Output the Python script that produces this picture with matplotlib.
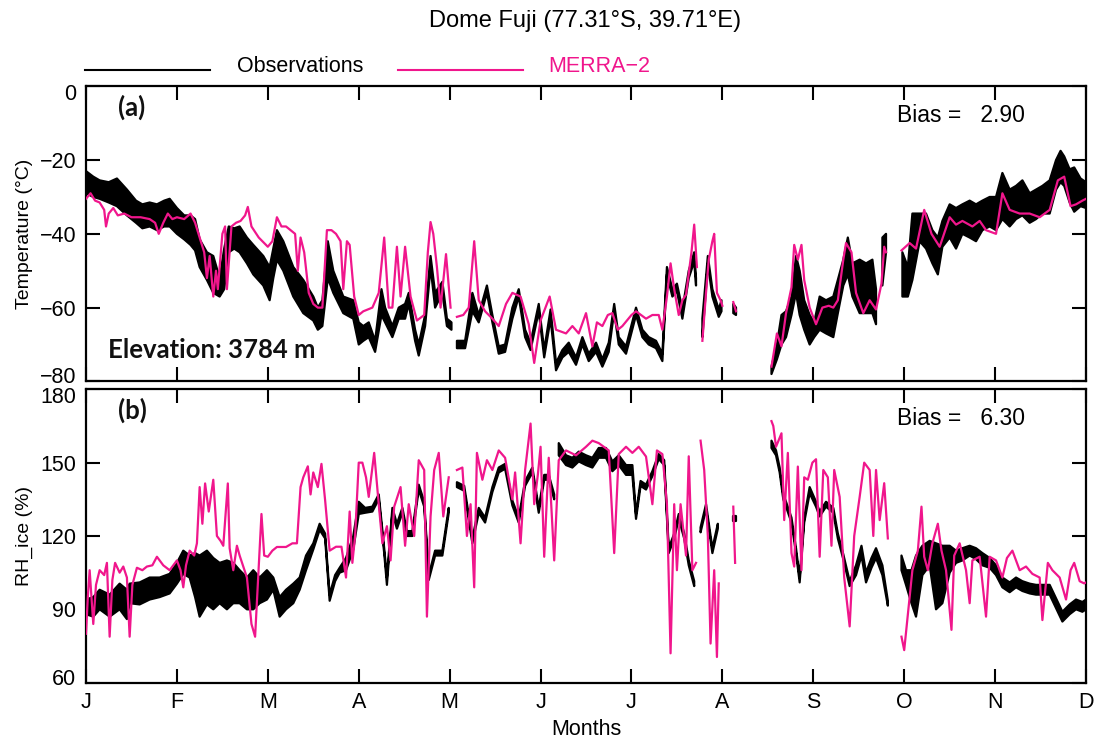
import numpy as np
import matplotlib
matplotlib.use("Agg")
import matplotlib.pyplot as plt
from matplotlib.lines import Line2D
from matplotlib.transforms import ScaledTranslation

nan = np.nan

months = ["J", "F", "M", "A", "M", "J", "J", "A", "S", "O", "N", "D"]

# observations: (month, low, high) of the hourly band
obs_temp = [
    (0.00, -29, -23), (0.08, -30, -24.5), (0.15, -30.5, -25.5), (0.25, -31.5, -26),
    (0.34, -32.5, -25), (0.45, -35, -28), (0.55, -37, -31), (0.62, -38.5, -32),
    (0.70, -38, -31.5), (0.78, -39, -32), (0.86, -38, -31), (0.92, -38, -30.5),
    (1.00, -40, -33), (1.08, -41.5, -35), (1.15, -43, -35), (1.20, -44.5, -36),
    (1.25, -49, -41.5), (1.33, -52.5, -45), (1.40, -56, -46), (1.47, -57, -52),
    (1.52, -55, -44), (1.57, -45, -38), (1.63, -44, -38.5), (1.69, -45, -38),
    (1.77, -48, -41), (1.84, -51, -43), (1.95, -54, -46), (2.02, -58, -49),
    (2.06, -52, -44), (2.10, -47, -39), (2.17, -50, -42), (2.28, -57, -49),
    (2.39, -61.5, -52.5), (2.50, -63.5, -57), (2.55, -66, -60), (2.60, -65, -58),
    (2.66, -52, -42), (2.72, -56, -50), (2.83, -61.5, -57), (2.94, -63, -58),
    (3.00, -70, -64), (3.05, -69, -65), (3.11, -68, -64), (3.18, -72, -69),
    (3.25, -62, -55), (3.29, -64, -60), (3.37, -68, -65), (3.44, -63, -60),
    (3.51, -63, -59), (3.55, -59, -56), (3.62, -69, -66), (3.66, -73, -70),
    (3.73, -65, -62), (3.79, -49, -46), (3.84, -60, -56), (3.92, -56, -53),
    (3.97, -65, -63), (4.02, -66, -64), (4.05, nan, nan),
    (4.08, -71, -69), (4.17, -71, -69), (4.25, -61, -56), (4.32, -64, -62),
    (4.41, -56, -54), (4.47, -64, -62), (4.54, -72.5, -70.5), (4.61, -72, -70),
    (4.69, -63, -60), (4.76, -57, -55), (4.83, -68, -66), (4.89, -71.5, -69.5),
    (4.98, -61, -59), (5.04, -73.5, -71.5), (5.11, -63, -60.5), (5.17, -77, -75),
    (5.24, -73.5, -71.5), (5.31, -72, -69.5), (5.39, -75.5, -73.5), (5.46, -70, -68),
    (5.53, -74.5, -72.5), (5.61, -72, -69.5), (5.68, -76, -74), (5.75, -72, -69.5),
    (5.81, -61, -59), (5.86, -70, -68), (5.94, -72.5, -70.5), (6.05, -62, -60),
    (6.12, -68, -66), (6.19, -70, -68), (6.27, -71, -69), (6.34, -74.5, -72.5),
    (6.39, -51, -49), (6.45, -57, -55), (6.50, -55.5, -53.5), (6.56, -63, -60.5),
    (6.63, -52, -50), (6.69, -47.5, -45), (6.71, -54, -52), (6.74, nan, nan),
    (6.78, -68, -63), (6.84, -48, -46), (6.89, -57, -55), (6.96, -62.5, -60.5),
    (6.99, -61, -58), (7.05, nan, nan), (7.12, -61.5, -59), (7.15, -62, -60),
    (7.30, nan, nan),
    (7.54, -78, -76), (7.60, -74, -70), (7.65, -70, -62), (7.70, -68, -61),
    (7.76, -62, -57), (7.81, -56, -46), (7.85, -62, -50), (7.90, -66, -58),
    (7.96, -70, -62), (8.01, -68, -64), (8.07, -66, -57), (8.14, -67, -58),
    (8.22, -68, -57), (8.27, -61.5, -52.5), (8.33, -54, -47), (8.38, -51, -41),
    (8.43, -57, -48), (8.51, -61.5, -47), (8.58, -61.5, -48), (8.65, -61.5, -47),
    (8.69, -64.5, -55), (8.72, nan, nan), (8.76, -54, -41), (8.80, -45, -40),
    (8.88, nan, nan),
    (8.98, -57, -45), (9.04, -57, -49), (9.09, -52.5, -34.5), (9.17, -42, -34.5),
    (9.24, -44, -34.5), (9.31, -48, -39), (9.37, -51, -41), (9.42, -43.5, -36.5),
    (9.50, -41, -32), (9.57, -44, -33), (9.64, -40, -32), (9.72, -41, -31),
    (9.79, -42, -32), (9.86, -39, -31), (9.94, -38, -30), (10.01, -39, -30),
    (10.08, -36, -23.5), (10.16, -38, -28), (10.23, -36, -27), (10.30, -35, -25.5),
    (10.38, -37, -29), (10.45, -36, -28), (10.52, -34.5, -27), (10.60, -34.5, -25.5),
    (10.67, -28, -20), (10.72, -26, -17.5), (10.76, -27, -19), (10.82, -31.5, -22.5),
    (10.87, -34, -22), (10.94, -32.5, -25), (11.00, -33, -26),
]

merra_temp = [
    (0.00, -30.5), (0.05, -29), (0.10, -31), (0.15, -31.5), (0.20, -33.5), (0.22, -38),
    (0.25, -34.5), (0.30, -33), (0.35, -35), (0.42, -34.5), (0.50, -35.5), (0.60, -35.5),
    (0.70, -36), (0.76, -37), (0.80, -40), (0.85, -37), (0.90, -34.5), (0.95, -36),
    (1.00, -35.5), (1.08, -36), (1.15, -34.5), (1.20, -37), (1.25, -41), (1.30, -45),
    (1.33, -52), (1.36, -46), (1.40, -57), (1.43, -50), (1.45, -55), (1.50, -40),
    (1.53, -38), (1.55, -55), (1.60, -38), (1.65, -37), (1.70, -36.5), (1.75, -35),
    (1.78, -32.7), (1.82, -38), (1.90, -41), (2.00, -43.5), (2.05, -42), (2.10, -35.5),
    (2.15, -38), (2.20, -38), (2.30, -40), (2.33, -50), (2.36, -41), (2.40, -45),
    (2.45, -56), (2.50, -59), (2.55, -60), (2.60, -60), (2.65, -39), (2.70, -39),
    (2.75, -40), (2.80, -42), (2.83, -55), (2.87, -42), (2.90, -43), (2.95, -57),
    (3.00, -62), (3.05, -61), (3.15, -60), (3.22, -56), (3.28, -41), (3.33, -60),
    (3.37, -60), (3.42, -43.5), (3.46, -57), (3.51, -43.5), (3.57, -57), (3.64, -63.5),
    (3.72, -62), (3.76, -45), (3.79, -36.8), (3.82, -40), (3.86, -49), (3.90, -60),
    (3.96, -45.5), (4.01, -60), (4.04, nan),
    (4.08, -62.5), (4.15, -62), (4.21, -60), (4.27, -42), (4.32, -58), (4.39, -61),
    (4.47, -63), (4.54, -65), (4.62, -59), (4.69, -56), (4.78, -57), (4.87, -64.5),
    (4.93, -75), (5.00, -63.5), (5.10, -57), (5.17, -66), (5.28, -67), (5.35, -65),
    (5.42, -67), (5.50, -61.5), (5.57, -70.5), (5.62, -64), (5.68, -65), (5.74, -62),
    (5.79, -61.5), (5.85, -66), (5.90, -65), (6.00, -62), (6.05, -61), (6.16, -63),
    (6.23, -62), (6.30, -62), (6.34, -66), (6.39, -57), (6.43, -48), (6.47, -55),
    (6.52, -62), (6.56, -58), (6.60, -56.5), (6.66, -45), (6.69, -37.5), (6.72, -49),
    (6.74, nan),
    (6.78, -69), (6.82, -56), (6.85, -47), (6.89, -42), (6.91, -40), (6.94, -56),
    (6.98, -58), (7.00, -59.5), (7.05, nan), (7.12, -58.5), (7.15, -61), (7.30, nan),
    (7.54, -76), (7.60, -67), (7.65, -70.5), (7.70, -61.5), (7.76, -54.5), (7.79, -43),
    (7.83, -47), (7.87, -43), (7.90, -52.5), (7.96, -60), (8.03, -64.5), (8.10, -60),
    (8.17, -59.5), (8.22, -60), (8.27, -58), (8.33, -47), (8.36, -42.5), (8.42, -45),
    (8.47, -56), (8.55, -61.5), (8.62, -58), (8.69, -60.5), (8.75, -53.5), (8.78, -43.5),
    (8.80, -45), (8.88, nan),
    (8.97, -44.5), (9.06, -42.5), (9.13, -44), (9.22, -33.5), (9.30, -40), (9.39, -43.5),
    (9.50, -35.5), (9.57, -37.5), (9.64, -36.5), (9.75, -38), (9.83, -36.5), (9.90, -39),
    (10.01, -40), (10.08, -29), (10.16, -33.5), (10.27, -34.5), (10.38, -34.5),
    (10.49, -35.5), (10.60, -33.5), (10.69, -25.5), (10.76, -24.5), (10.83, -32.5),
    (10.89, -32), (10.96, -31), (11.00, -30.5),
]

obs_rh = [
    (0.00, 88, 94), (0.08, 87, 95), (0.15, 90, 98), (0.26, 87, 96), (0.37, 90, 100.5),
    (0.45, 86, 98), (0.48, 92.5, 100.5), (0.59, 92, 101), (0.70, 94, 103), (0.81, 95, 103),
    (0.92, 96.5, 104.5), (1.00, 100.5, 109), (1.07, 104.5, 114), (1.14, 103, 112),
    (1.20, 95, 113), (1.25, 87, 112), (1.33, 92, 114), (1.40, 90, 111), (1.47, 92.5, 109),
    (1.55, 90, 110), (1.62, 92.5, 109), (1.69, 92.5, 106), (1.77, 90, 103), (1.84, 90, 106),
    (1.91, 92.5, 103), (1.99, 94, 106), (2.06, 98, 103), (2.13, 87, 95), (2.20, 90, 98),
    (2.28, 92.5, 100.5), (2.35, 98, 103), (2.42, 106, 112), (2.50, 114.5, 117),
    (2.57, 122.5, 125), (2.63, 119, 121), (2.68, 93.5, 96), (2.74, 101.5, 104),
    (2.79, 105, 107), (2.86, 106, 111), (2.94, 114.5, 120), (3.00, 129, 134),
    (3.07, 129.5, 131.5), (3.15, 130, 132), (3.22, 135, 137), (3.28, 113, 115),
    (3.31, 100, 103), (3.37, 129.5, 131.5), (3.42, 123, 125), (3.48, 129.5, 131.5),
    (3.53, 120, 122), (3.59, 120, 122), (3.66, 139, 141), (3.72, 132, 134),
    (3.77, 102, 104), (3.84, 112, 114), (3.92, 112, 114), (3.99, 129.5, 131.5),
    (4.03, nan, nan),
    (4.08, 140, 142), (4.16, 138.5, 140.5), (4.25, 117, 119), (4.32, 129.5, 131.5),
    (4.39, 125.5, 127.5), (4.47, 138, 140), (4.54, 146, 148), (4.61, 147.5, 149.5),
    (4.69, 132.5, 134.5), (4.76, 125.5, 127.5), (4.83, 140.5, 142.5), (4.91, 146, 148),
    (4.98, 129.5, 131.5), (5.04, 143, 145), (5.09, 143, 145), (5.15, 135, 137),
    (5.17, nan, nan),
    (5.20, 153, 158), (5.28, 149, 153), (5.35, 148, 152), (5.42, 150.5, 154.5),
    (5.50, 149, 153), (5.57, 148, 152), (5.64, 152, 156), (5.72, 152, 156),
    (5.79, 146.5, 150.5), (5.86, 149, 153), (5.94, 145, 149), (6.01, 145, 149),
    (6.05, 127, 129), (6.10, 140.5, 142.5), (6.16, 139, 141), (6.23, 144.5, 146.5),
    (6.30, 151.5, 153.5), (6.36, 149, 151), (6.41, 113, 115), (6.47, 119, 121),
    (6.52, 127, 129), (6.58, 119, 121), (6.63, 108, 110), (6.69, 99.5, 101.5),
    (6.72, nan, nan),
    (6.76, 121.5, 123.5), (6.82, 131, 133), (6.89, 113, 115), (6.95, 123, 125),
    (7.03, nan, nan), (7.12, 126, 128), (7.15, 126, 128), (7.30, nan, nan),
    (7.54, 156, 159), (7.59, 153, 155), (7.63, 146, 148), (7.67, 135, 137),
    (7.70, 132, 134), (7.76, 125.5, 127.5), (7.81, 113, 115), (7.85, 101, 103),
    (7.90, 125.5, 127.5), (7.96, 137.5, 140), (8.03, 132, 134), (8.07, 128, 130),
    (8.14, 132, 134), (8.22, 129.5, 131.5), (8.27, 119, 121), (8.33, 110.5, 112.5),
    (8.40, 99.5, 101.5), (8.47, 104, 108), (8.53, 112, 116), (8.58, 101, 105),
    (8.64, 107, 111), (8.69, 111, 115), (8.76, 104, 108), (8.82, 91.5, 93.5),
    (8.90, nan, nan),
    (8.97, 106, 112), (9.02, 100, 106), (9.08, 92.5, 106), (9.13, 87, 112),
    (9.20, 104, 116), (9.28, 108, 118), (9.35, 90, 117), (9.42, 92.5, 116),
    (9.50, 105, 116), (9.57, 109, 114), (9.64, 110, 115), (9.72, 112, 116),
    (9.79, 110.5, 115), (9.86, 108, 113), (9.94, 107, 111), (10.01, 104, 108),
    (10.08, 99, 103), (10.16, 97, 101), (10.23, 99, 103), (10.30, 97.5, 101.5),
    (10.38, 96.5, 100.5), (10.45, 96, 100), (10.52, 96, 100), (10.60, 96, 100),
    (10.67, 90.5, 94.5), (10.74, 85, 89), (10.82, 88, 92), (10.89, 90, 94),
    (10.96, 89, 93), (11.00, 90, 94),
]

merra_rh = [
    (0.00, 80), (0.02, 95), (0.04, 106), (0.08, 84), (0.11, 100), (0.15, 106),
    (0.20, 104), (0.23, 109), (0.26, 78.8), (0.29, 102), (0.32, 109), (0.37, 105),
    (0.41, 107.5), (0.45, 103), (0.48, 78.8), (0.51, 100), (0.56, 107), (0.62, 106),
    (0.67, 107.5), (0.73, 108), (0.78, 111.5), (0.85, 108), (0.92, 106), (1.00, 110),
    (1.04, 106), (1.07, 99), (1.10, 108), (1.14, 114), (1.19, 112), (1.22, 117),
    (1.25, 140), (1.28, 125), (1.31, 141.5), (1.35, 130), (1.40, 143), (1.44, 120),
    (1.48, 118), (1.51, 116), (1.56, 141.5), (1.58, 115), (1.62, 106), (1.66, 116),
    (1.69, 112), (1.77, 103), (1.82, 84), (1.86, 78.8), (1.89, 100), (1.93, 129),
    (1.96, 112), (2.00, 111.5), (2.05, 114), (2.10, 115.5), (2.20, 115.5), (2.27, 117),
    (2.32, 117), (2.36, 140), (2.39, 144), (2.44, 148.5), (2.47, 137), (2.50, 146),
    (2.55, 140), (2.59, 149.5), (2.63, 134.7), (2.66, 122), (2.68, 114), (2.75, 115.6),
    (2.81, 115.6), (2.86, 103), (2.90, 130), (2.93, 109), (2.96, 120), (3.00, 150),
    (3.04, 150), (3.08, 144), (3.11, 136), (3.17, 154), (3.22, 133), (3.26, 117),
    (3.31, 124), (3.35, 110), (3.39, 132), (3.46, 140), (3.51, 116), (3.55, 133),
    (3.61, 120), (3.66, 151), (3.72, 147), (3.75, 87), (3.79, 128), (3.83, 147),
    (3.88, 154), (3.93, 128), (3.99, 144), (4.03, nan),
    (4.08, 147), (4.14, 148), (4.19, 120), (4.23, 133), (4.27, 99), (4.30, 154),
    (4.36, 143), (4.41, 151), (4.47, 147), (4.54, 155), (4.61, 152), (4.69, 135),
    (4.72, 146), (4.78, 117), (4.83, 147), (4.89, 166), (4.93, 133), (4.97, 145),
    (5.00, 156.5), (5.04, 111.5), (5.09, 152), (5.15, 110), (5.20, 151), (5.28, 155),
    (5.39, 153), (5.50, 156.5), (5.57, 159), (5.64, 158), (5.75, 155), (5.81, 113),
    (5.86, 153.5), (5.94, 156.5), (6.01, 154), (6.08, 156.5), (6.16, 152.5), (6.23, 133),
    (6.28, 155), (6.34, 153.5), (6.39, 133), (6.43, 72), (6.47, 133), (6.50, 106),
    (6.54, 133), (6.60, 112), (6.63, 152.6), (6.67, 106), (6.71, 109), (6.73, nan),
    (6.76, 159), (6.80, 147), (6.84, 120), (6.87, 76), (6.91, 106), (6.94, 70.5),
    (6.96, 100.6), (7.03, nan), (7.12, 132), (7.14, 109), (7.30, nan),
    (7.54, 167), (7.56, 165), (7.59, 156.5), (7.65, 162), (7.68, 126.5), (7.72, 154),
    (7.76, 113), (7.79, 107.5), (7.83, 148.4), (7.87, 106), (7.90, 144), (7.94, 143),
    (7.99, 150), (8.03, 151.4), (8.07, 111.5), (8.11, 147), (8.16, 144), (8.20, 116),
    (8.23, 147), (8.29, 136), (8.34, 103), (8.40, 83), (8.45, 120), (8.51, 136),
    (8.56, 150), (8.62, 147), (8.66, 120), (8.69, 147), (8.73, 126.5), (8.78, 141.6),
    (8.82, 119), (8.90, nan),
    (8.97, 78.8), (9.00, 73.3), (9.04, 88), (9.09, 106), (9.15, 114), (9.19, 132),
    (9.22, 111.5), (9.26, 106), (9.31, 117), (9.37, 125), (9.41, 114), (9.46, 106),
    (9.52, 81.6), (9.55, 112), (9.61, 117), (9.68, 106), (9.72, 92.5), (9.75, 110),
    (9.83, 111.5), (9.90, 87), (9.94, 111.5), (10.01, 110), (10.08, 103), (10.13, 111),
    (10.19, 114), (10.27, 106), (10.34, 107.5), (10.41, 104.5), (10.49, 103),
    (10.52, 85.6), (10.58, 109), (10.63, 106), (10.71, 103), (10.78, 94), (10.83, 106),
    (10.87, 109), (10.93, 101.5), (10.98, 100.6), (11.00, 101),
]

bias_temp = 2.90
bias_rh = 6.30

MAGENTA = "#F0168C"
plt.rcParams["font.family"] = ["Liberation Sans", "DejaVu Sans"]

fig = plt.figure(figsize=(10.97, 7.42), dpi=100)
ax1 = fig.add_axes([0.0784, 0.486, 0.9116, 0.3977])
ax2 = fig.add_axes([0.0784, 0.080, 0.9116, 0.3953])


def draw(ax, obs, merra):
    o = np.array(obs, dtype=float)
    m = np.array(merra, dtype=float)
    ax.fill_between(o[:, 0], o[:, 1], o[:, 2], facecolor="black",
                    edgecolor="black", linewidth=1.6, zorder=2)
    ax.plot(m[:, 0], m[:, 1], color=MAGENTA, lw=1.6, zorder=3)
    ax.set_xlim(0, 11)
    ax.set_xticks(range(12))
    ax.tick_params(direction="in", length=10, width=1.5, top=True, right=True,
                   labelsize=15.5, pad=7)
    for s in ax.spines.values():
        s.set_linewidth(1.6)


draw(ax1, obs_temp, merra_temp)
ax1.set_ylim(-80, 0)
ax1.set_yticks([-80, -60, -40, -20, 0])
ax1.set_xticklabels([])
ax1.set_ylabel("Temperature (°C)", fontsize=14, labelpad=5)

draw(ax2, obs_rh, merra_rh)
ax2.set_ylim(60, 180)
ax2.set_yticks([60, 90, 120, 150, 180])
ax2.set_xticklabels(months)
ax2.set_xlabel("Months", fontsize=15.5, labelpad=4)
ax2.set_ylabel("RH_ice (%)", fontsize=14, labelpad=5)

# end labels nudged inside the frame, as in the original
shift = 0.06
for ax in (ax1, ax2):
    labels = ax.get_yticklabels()
    labels[0].set_transform(labels[0].get_transform()
                            + ScaledTranslation(0, shift, fig.dpi_scale_trans))
    labels[-1].set_transform(labels[-1].get_transform()
                             + ScaledTranslation(0, -shift, fig.dpi_scale_trans))

bold = dict(family=["Lato", "DejaVu Sans"], fontweight="bold", fontsize=18.5, color="#111111")
ax1.text(0.032, 0.93, "(a)", transform=ax1.transAxes, va="center", **bold)
ax2.text(0.032, 0.93, "(b)", transform=ax2.transAxes, va="center", **bold)
ax1.text(0.022, 0.105, "Elevation: 3784 m", transform=ax1.transAxes, va="center", **bold)
ax1.text(0.811, 0.9, "Bias =   %.2f" % bias_temp, transform=ax1.transAxes,
         va="center", fontsize=16.5)
ax2.text(0.811, 0.9, "Bias =   %.2f" % bias_rh, transform=ax2.transAxes,
         va="center", fontsize=16.5)

fig.text(0.533, 0.972, "Dome Fuji (77.31°S, 39.71°E)", ha="center", va="center", fontsize=17)
ly = 1 - 70 / 742
fig.add_artist(Line2D([85 / 1097, 210 / 1097], [ly, ly], color="black", lw=1.5))
fig.text(237 / 1097, 1 - 66 / 742, "Observations", va="center", fontsize=15.5)
fig.add_artist(Line2D([398 / 1097, 523 / 1097], [ly, ly], color=MAGENTA, lw=1.5))
fig.text(548 / 1097, 1 - 66 / 742, "MERRA\u22122", va="center", fontsize=15.5, color=MAGENTA)

fig.savefig("out.png", dpi=100)
